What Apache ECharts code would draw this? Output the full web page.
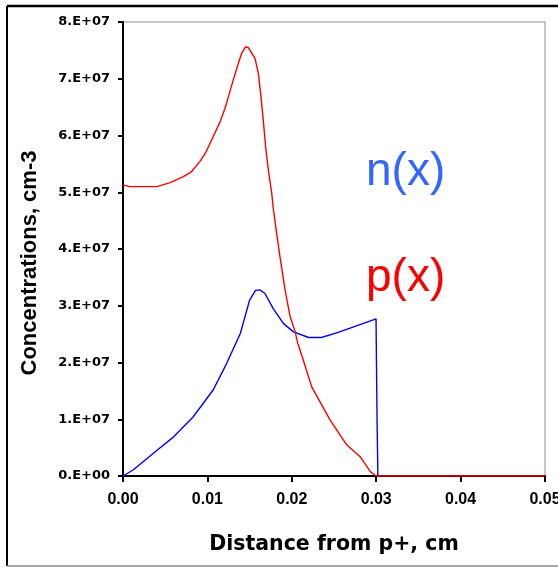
<!DOCTYPE html>
<html><head><meta charset="utf-8">
<script src="https://cdn.jsdelivr.net/npm/echarts@6/dist/echarts.min.js"></script>
<style>html,body{margin:0;padding:0;background:#fff}#c{width:558px;height:568px}</style>
</head><body><div id="c"></div>
<script>
// p(x) : [distance cm, concentration cm-3]
const pX = [0,0.0008,0.004,0.0056,0.0071,0.0081,0.0091,0.0098,0.0105,0.0115,0.01209,0.01248,0.01307,0.01366,0.01406,0.01453,0.01485,0.01564,0.01603,0.01635,0.01662,0.0169,0.01722,0.01761,0.0178,0.0182,0.0186,0.0192,0.0198,0.0204,0.0207,0.0213,0.02236,0.02453,0.0265,0.0281,0.0293,0.0300,0.04,0.05];
const pY = [5.13e7,5.10e7,5.10e7,5.17e7,5.27e7,5.36e7,5.54e7,5.70e7,5.92e7,6.24e7,6.48e7,6.68e7,6.98e7,7.27e7,7.45e7,7.56e7,7.55e7,7.36e7,7.10e7,6.68e7,6.27e7,5.80e7,5.39e7,5.0e7,4.72e7,4.28e7,3.86e7,3.28e7,2.81e7,2.54e7,2.34e7,2.07e7,1.57e7,9.9e6,5.5e6,3.4e6,0.76e6,0,0,0];
// n(x)
const nX = [0,0.0012,0.0036,0.006,0.0083,0.0107,0.0123,0.0139,0.015,0.0157,0.0162,0.0168,0.0178,0.019,0.0202,0.022,0.0235,0.0255,0.02998,0.0301,0.0302];
const nY = [0,1.06e6,4.0e6,6.9e6,1.04e7,1.52e7,1.99e7,2.51e7,3.10e7,3.27e7,3.28e7,3.22e7,2.95e7,2.69e7,2.54e7,2.44e7,2.44e7,2.53e7,2.77e7,1.0e7,0];
const xTicks = [0,0.01,0.02,0.03,0.04,0.05];
const yTicks = [0,1e7,2e7,3e7,4e7,5e7,6e7,7e7,8e7];
const xName = 'Distance from p+, cm';
const yName = 'Concentrations, cm-3';
const nLabel = 'n(x)', pLabel = 'p(x)';

const zip = (a,b)=>a.map((v,i)=>[v,b[i]]);
const chart = echarts.init(document.getElementById('c'));
const F = 'Liberation Sans, Arial, sans-serif';
const FW = 'DejaVu Sans, sans-serif';
chart.setOption({
  animation:false,
  grid:{left:123,right:13,top:22,bottom:92,show:true,borderColor:'#888',borderWidth:1,outerBoundsMode:'none',containLabel:false},
  xAxis:{type:'value',min:xTicks[0],max:xTicks[xTicks.length-1],interval:0.01,
    name:xName,nameLocation:'middle',nameGap:58,
    nameTextStyle:{fontFamily:FW,fontWeight:'bold',fontSize:20.5,color:'#000'},
    axisLine:{lineStyle:{color:'#000',width:2}},
    axisTick:{show:true,length:6,lineStyle:{color:'#000',width:2}},
    axisLabel:{fontFamily:F,fontWeight:'bold',fontSize:16,color:'#000',margin:16,formatter:v=>v.toFixed(2)},
    splitLine:{show:false}},
  yAxis:{type:'value',min:yTicks[0],max:yTicks[yTicks.length-1],interval:1e7,
    axisLine:{show:true,lineStyle:{color:'#000',width:2}},
    axisTick:{show:true,length:5,lineStyle:{color:'#000',width:2}},
    axisLabel:{fontFamily:FW,fontWeight:'bold',fontSize:13,color:'#000',margin:13,
      formatter:v=>v===0?'0.E+00':Math.round(v/1e7)+'.E+07'},
    splitLine:{show:false}},
  series:[
    {type:'line',data:zip(nX,nY),showSymbol:false,lineStyle:{color:'#0000ff',width:1.4},z:3},
    {type:'line',data:zip(pX,pY),showSymbol:false,lineStyle:{color:'#ff0000',width:1.4},z:4}
  ],
  graphic:[
    {type:'line',shape:{x1:7,y1:6,x2:558,y2:6},style:{stroke:'#000',lineWidth:2.5}},
    {type:'line',shape:{x1:7,y1:6,x2:7,y2:566},style:{stroke:'#000',lineWidth:2}},
    {type:'line',shape:{x1:7,y1:566,x2:558,y2:566},style:{stroke:'#888',lineWidth:1.5}},
    {type:'text',x:30,y:263,rotation:Math.PI/2,style:{text:yName,fontFamily:F,fontWeight:'bold',fontSize:22,fill:'#000',align:'center',verticalAlign:'middle'}},
    {type:'text',left:366,top:149,style:{text:nLabel,fontFamily:F,fontSize:46,fill:'#3366ff'}},
    {type:'text',left:366,top:255,style:{text:pLabel,fontFamily:F,fontSize:46,fill:'#ff0000'}}
  ]
});
</script></body></html>
